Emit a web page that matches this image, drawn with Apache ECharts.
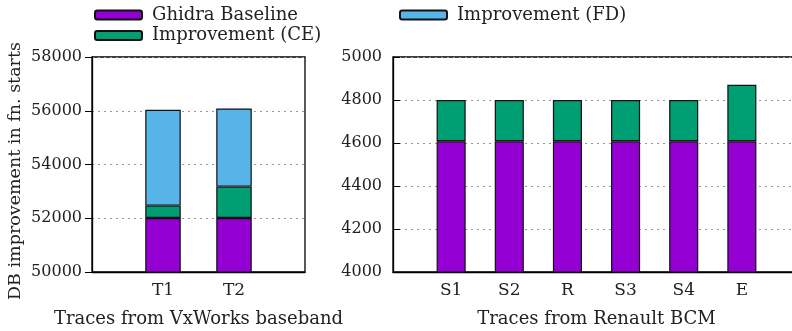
<!DOCTYPE html>
<html>
<head>
<meta charset="utf-8">
<script src="https://cdn.jsdelivr.net/npm/echarts@6/dist/echarts.min.js"></script>
<style>
  html, body { margin: 0; padding: 0; background: #fff; }
  #chart { width: 792px; height: 331px; }
</style>
</head>
<body>
<div id="chart"></div>
<script>
// VxWorks baseband traces (left panel)
const vxCategories = ['T1', 'T2'];
const vxBaseline = [52010, 52010];
const vxImprovementCE = [460, 1167];
const vxImprovementFD = [3567, 2909];
const vxTicks = [50000, 52000, 54000, 56000, 58000];

// Renault BCM traces (right panel)
const bcmCategories = ['S1', 'S2', 'R', 'S3', 'S4', 'E'];
const bcmBaseline = [4608, 4608, 4608, 4608, 4608, 4608];
const bcmImprovementCE = [192, 192, 192, 192, 192, 263];
const bcmTicks = [4000, 4200, 4400, 4600, 4800, 5000];

const seriesNames = ['Ghidra Baseline', 'Improvement (CE)', 'Improvement (FD)'];
const colors = ['#9400d3', '#009e73', '#56b4e9'];

const FONT = '"DejaVu Serif", serif';
const FS_TICK = 16;
const FS_CAT = 17;
const FS_TITLE = 18;
const TEXT = '#222';

// Padded category lists: an empty slot on each side keeps bars off the frame
const pad = arr => [''].concat(arr, ['']);
const padData = arr => [null].concat(arr, [null]);

function barSeries(name, idx, data, gridIdx) {
  return {
    name: name,
    type: 'bar',
    stack: 'g' + gridIdx,
    xAxisIndex: gridIdx,
    yAxisIndex: gridIdx,
    barWidth: '50%',
    data: padData(data),
    itemStyle: { color: colors[idx], borderColor: '#111', borderWidth: 1.2 },
    emphasis: { disabled: true },
    clip: true
  };
}

function xAxisFor(cats, gridIdx, title) {
  return {
    type: 'category',
    gridIndex: gridIdx,
    data: pad(cats),
    boundaryGap: false,
    axisLine: { show: true, lineStyle: { color: '#000', width: 1.3 } },
    axisTick: { show: false },
    axisLabel: { color: TEXT, fontFamily: FONT, fontSize: FS_CAT, margin: 10 },
    splitLine: { show: false },
    name: title,
    nameLocation: 'middle',
    nameGap: 38,
    nameMoveOverlap: false,
    nameTextStyle: { color: TEXT, fontFamily: FONT, fontSize: FS_TITLE }
  };
}

function yAxisFor(ticks, gridIdx, inside) {
  return {
    type: 'value',
    gridIndex: gridIdx,
    min: ticks[0],
    max: ticks[ticks.length - 1],
    interval: ticks[1] - ticks[0],
    axisLine: { show: true, lineStyle: { color: '#000', width: 1.3 } },
    axisTick: { show: true, inside: inside, length: 7, lineStyle: { color: '#000', width: 1 } },
    axisLabel: {
      color: TEXT, fontFamily: FONT, fontSize: FS_TICK,
      margin: inside ? 11 : 10,
      formatter: v => String(v)
    },
    splitLine: { show: true, lineStyle: { color: '#999', type: [2, 4], width: 1 } }
  };
}

const legendText = { color: TEXT, fontFamily: FONT, fontSize: FS_TITLE, padding: [0, 0, 0, 5] };

const chart = echarts.init(document.getElementById('chart'), null, { renderer: 'canvas' });

const gridBase = {
  top: 57, height: 215, show: true, borderColor: '#000', borderWidth: 1.3,
  backgroundColor: 'transparent', containLabel: false, outerBoundsMode: 'none'
};

chart.setOption({
  animation: false,
  backgroundColor: '#fff',
  grid: [
    Object.assign({ left: 92, width: 213 }, gridBase),
    Object.assign({ left: 393, width: 407 }, gridBase)
  ],
  xAxis: [
    xAxisFor(vxCategories, 0, 'Traces from VxWorks baseband'),
    xAxisFor(bcmCategories, 1, 'Traces from Renault BCM')
  ],
  yAxis: [
    yAxisFor(vxTicks, 0, false),
    yAxisFor(bcmTicks, 1, true)
  ],
  legend: [
    {
      data: [seriesNames[0], seriesNames[1]],
      orient: 'vertical',
      left: 94, top: 6, padding: 0,
      itemWidth: 47, itemHeight: 9, itemGap: 2.5,
      selectedMode: false,
      textStyle: legendText
    },
    {
      data: [seriesNames[2]],
      orient: 'vertical',
      left: 399, top: 6, padding: 0,
      itemWidth: 47, itemHeight: 9, itemGap: 2.5,
      selectedMode: false,
      textStyle: legendText
    }
  ],
  graphic: [
    {
      type: 'text',
      rotation: Math.PI / 2,
      x: 15, y: 171,
      style: {
        text: 'DB improvement in fn. starts',
        fill: TEXT,
        font: '17.5px ' + FONT,
        textAlign: 'center',
        textVerticalAlign: 'middle'
      }
    }
  ],
  series: [
    barSeries(seriesNames[0], 0, vxBaseline, 0),
    barSeries(seriesNames[1], 1, vxImprovementCE, 0),
    barSeries(seriesNames[2], 2, vxImprovementFD, 0),
    barSeries(seriesNames[0], 0, bcmBaseline, 1),
    barSeries(seriesNames[1], 1, bcmImprovementCE, 1)
  ]
});
</script>
</body>
</html>
